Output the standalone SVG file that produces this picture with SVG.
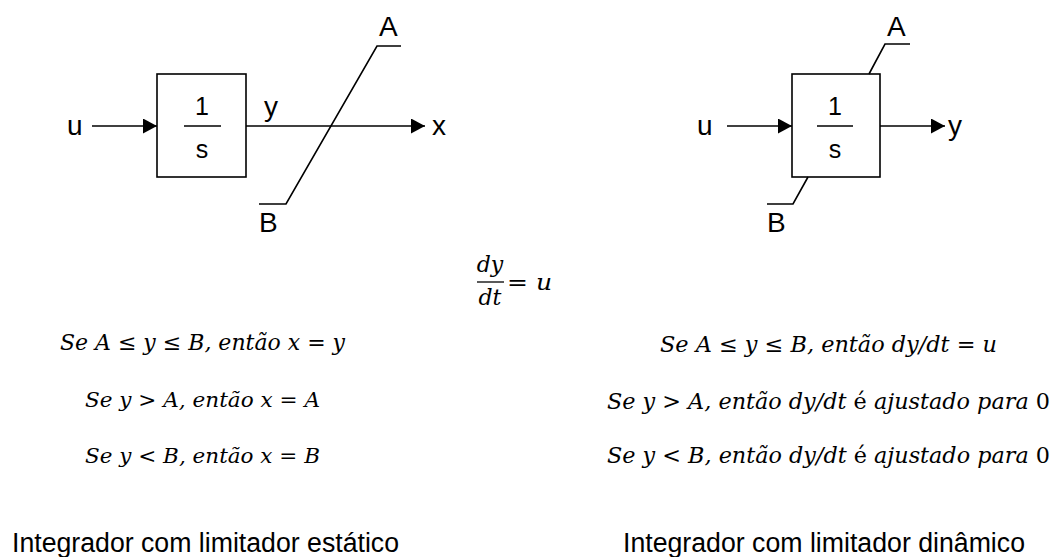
<svg xmlns="http://www.w3.org/2000/svg" width="1060" height="557" viewBox="0 0 1060 557">
<style>
.lbl{font-family:"Liberation Sans",Arial,sans-serif;font-size:28px;fill:#000}
.frac{font-family:"Liberation Sans",Arial,sans-serif;font-size:25px;fill:#000;text-anchor:middle}
.box{fill:#fff;stroke:#000;stroke-width:1.6}
.ln{fill:none;stroke:#000;stroke-width:1.6}
.math{font-family:"DejaVu Serif","Liberation Serif",serif;font-style:italic;font-size:22px;fill:#000}
.sm{font-size:21px}
.up{font-style:normal}
.cap{font-family:"Liberation Sans",Arial,sans-serif;font-size:27px;fill:#000}
</style>
<defs>
<marker id="ah" viewBox="0 0 14 15" refX="14" refY="7.5" markerWidth="14" markerHeight="15" markerUnits="userSpaceOnUse" orient="auto">
<path d="M0,0 L14,7.5 L0,15 z" fill="#000"/>
</marker>
</defs>
<g id="connectors">
<line class="ln" x1="92" y1="126" x2="157" y2="126" marker-end="url(#ah)"/>
<line class="ln" x1="246" y1="126" x2="425" y2="126" marker-end="url(#ah)"/>
<line class="ln" x1="727" y1="126" x2="792" y2="126" marker-end="url(#ah)"/>
<line class="ln" x1="880" y1="126" x2="945" y2="126" marker-end="url(#ah)"/>
</g>
<g id="static-integrator">
<rect class="box" x="157" y="74" width="89" height="103"/>
<text class="frac" x="202" y="115">1</text>
<line class="ln" x1="184" y1="126" x2="221" y2="126"/>
<text class="frac" x="202" y="158">s</text>
</g>
<g id="static-limiter">
<polyline class="ln" points="259,204 286,204 377,46 401,46"/>
<text class="lbl" x="379" y="36">A</text>
<text class="lbl" x="259" y="232">B</text>
</g>
<g id="left-labels">
<text class="lbl" x="67" y="135">u</text>
<text class="lbl" x="264" y="116">y</text>
<text class="lbl" x="432" y="135">x</text>
</g>
<g id="dynamic-integrator">
<rect class="box" x="792" y="74" width="88" height="103"/>
<text class="frac" x="835" y="115">1</text>
<line class="ln" x1="817" y1="126" x2="853" y2="126"/>
<text class="frac" x="835" y="158">s</text>
<polyline class="ln" points="869,74 885,44 910,44"/>
<polyline class="ln" points="808,177 793,204 767,204"/>
<text class="lbl" x="887" y="36">A</text>
<text class="lbl" x="767" y="232">B</text>
</g>
<g id="right-labels">
<text class="lbl" x="697" y="135">u</text>
<text class="lbl" x="948" y="135">y</text>
</g>
<g id="equation">
<text class="math" x="490" y="272" text-anchor="middle">dy</text>
<line x1="477" y1="282" x2="504" y2="282" stroke="#000" stroke-width="1.3"/>
<text class="math" x="490" y="305" text-anchor="middle">dt</text>
<text class="math" x="507" y="290" textLength="45" lengthAdjust="spacingAndGlyphs"><tspan class="up">=</tspan> u</text>
</g>
<g id="static-rules">
<text class="math" x="60" y="350" textLength="285" lengthAdjust="spacingAndGlyphs">Se A <tspan class="up">≤</tspan> y <tspan class="up">≤</tspan> B, então x <tspan class="up">=</tspan> y</text>
<text class="math sm" x="85" y="407" textLength="235" lengthAdjust="spacingAndGlyphs">Se y <tspan class="up">&gt;</tspan> A, então x <tspan class="up">=</tspan> A</text>
<text class="math sm" x="85" y="463" textLength="235" lengthAdjust="spacingAndGlyphs">Se y <tspan class="up">&lt;</tspan> B, então x <tspan class="up">=</tspan> B</text>
</g>
<g id="dynamic-rules">
<text class="math" x="660" y="352" textLength="337" lengthAdjust="spacingAndGlyphs">Se A <tspan class="up">≤</tspan> y <tspan class="up">≤</tspan> B, então dy/dt <tspan class="up">=</tspan> u</text>
<text class="math" x="607" y="409" textLength="443" lengthAdjust="spacingAndGlyphs">Se y <tspan class="up">&gt;</tspan> A, então dy/dt <tspan class="up">é</tspan> ajustado para <tspan class="up">0</tspan></text>
<text class="math" x="607" y="463" textLength="443" lengthAdjust="spacingAndGlyphs">Se y <tspan class="up">&lt;</tspan> B, então dy/dt <tspan class="up">é</tspan> ajustado para <tspan class="up">0</tspan></text>
</g>
<g id="captions">
<text class="cap" x="12" y="552" textLength="387" lengthAdjust="spacingAndGlyphs">Integrador com limitador estático</text>
<text class="cap" x="623" y="552" textLength="402" lengthAdjust="spacingAndGlyphs">Integrador com limitador dinâmico</text>
</g>
</svg>
